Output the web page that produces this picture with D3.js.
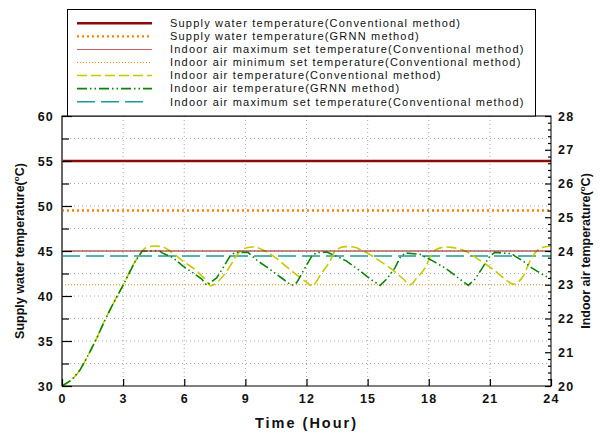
<!DOCTYPE html>
<html>
<head>
<meta charset="utf-8">
<script src="https://cdn.jsdelivr.net/npm/d3@7"></script>
<style>
  body { margin: 0; background: #fff; }
  svg { font-family: Arial, "Liberation Sans", sans-serif; }
</style>
</head>
<body>
<svg width="600" height="434"></svg>
<script>
const svg = d3.select("svg");

// ---- data ----
const timeTicks = [0, 3, 6, 9, 12, 15, 18, 21, 24];
const leftTicks = [30, 35, 40, 45, 50, 55, 60];
const rightTicks = [20, 21, 22, 23, 24, 25, 26, 27, 28];

// constant lines
const supplyConv = 55;      // left axis
const supplyGrnn = 49.5;    // left axis
const indoorMaxSet = 24;    // right axis
const indoorMinSet = 23;    // right axis
const indoorMaxSetGrnn = 23.85; // right axis

// indoor air temperature, conventional method (right axis)
const convTime = [0, 0.47, 0.88, 1.29, 1.7, 2.11, 2.52, 3.01, 3.58, 3.83, 4.07, 4.52, 4.96, 5.3, 5.94, 6.61, 7.1, 7.3,
  7.66, 8.25, 8.49, 8.82, 9.3, 9.6, 9.96, 10.6, 11.09, 11.58, 11.93, 12.26, 12.75, 13.15, 13.4, 13.9, 14.3, 14.79,
  15.61, 16.18, 16.75, 17.08, 17.41, 17.82, 18.14, 18.39, 18.9, 19.2, 19.78, 20.42, 21.25, 21.74, 22.15, 22.64,
  22.97, 23.3, 23.54, 24];
const convTemp = [20, 20.18, 20.47, 20.92, 21.41, 21.96, 22.45, 23.0, 23.68, 23.9, 24.08, 24.15, 24.12, 24.0, 23.7, 23.41, 23.11, 22.97,
  23.1, 23.55, 23.8, 24.03, 24.12, 24.1, 24.0, 23.75, 23.5, 23.26, 23.11, 22.97, 23.35, 23.7, 24.0, 24.13, 24.12, 24.0,
  23.7, 23.46, 23.17, 23.0, 23.2, 23.5, 23.9, 24.05, 24.12, 24.1, 24.0, 23.76, 23.41, 23.17, 23.02, 23.26,
  23.7, 24.0, 24.1, 24.15];

// indoor air temperature, GRNN method (right axis)
const grnnTime = [0, 0.47, 0.88, 1.29, 1.7, 2.11, 2.52, 3.01, 3.58, 3.83, 3.93, 4.81, 4.89, 5.45, 5.94, 6.43, 6.86, 7.1,
  7.59, 7.9, 8.25, 8.49, 9.13, 9.62, 10.11, 10.78, 11.27, 11.52, 11.84, 12.26, 12.5, 12.99, 13.64, 13.97, 14.63,
  15.12, 15.61, 15.94, 16.34, 16.59, 16.84, 17.57, 18.22, 18.8, 19.45, 19.94, 20.27, 20.6, 21.0, 21.25, 22.07,
  22.23, 22.64, 23.05, 23.71, 24];
const grnnTemp = [20, 20.18, 20.47, 20.92, 21.41, 21.96, 22.45, 23.0, 23.68, 23.9, 24.0, 24.0, 23.95, 23.8, 23.55, 23.35, 23.17, 22.98,
  23.2, 23.5, 23.85, 23.96, 23.96, 23.7, 23.5, 23.2, 22.98, 23.06, 23.41, 23.85, 23.95, 23.97, 23.8, 23.7, 23.41,
  23.17, 22.98, 23.17, 23.5, 23.8, 23.94, 23.9, 23.7, 23.5, 23.2, 22.98, 23.17, 23.47, 23.85, 23.96, 23.92,
  23.85, 23.7, 23.5, 23.26, 23.2];

const legendLabels = [
  "Supply water temperature(Conventional method)",
  "Supply water temperature(GRNN method)",
  "Indoor air maximum set temperature(Conventional method)",
  "Indoor air minimum set temperature(Conventional method)",
  "Indoor air temperature(Conventional method)",
  "Indoor air temperature(GRNN method)",
  "Indoor air maximum set temperature(Conventional method)"
];

// styles for each series, same order as legend
const styles = [
  { color: "#8b0a0a", width: 2.6, dash: null },
  { color: "#ff8000", width: 2.4, dash: "2,3" },
  { color: "#8b1a1a", width: 1.1, dash: null },
  { color: "#ff8000", width: 1.1, dash: "1,2" },
  { color: "#c8c800", width: 1.6, dash: "10,4" },
  { color: "#0a850a", width: 1.6, dash: "10,3,1.5,3,1.5,3" },
  { color: "#1a9a9a", width: 1.4, dash: "18,6" }
];

// ---- layout ----
const plot = { left: 62, right: 551, top: 116, bottom: 386 };

const x = d3.scaleLinear().domain([0, 24]).range([plot.left, plot.right]);
const yL = d3.scaleLinear().domain([30, 60]).range([plot.bottom, plot.top]);
const yR = d3.scaleLinear().domain([20, 28]).range([plot.bottom, plot.top]);

svg.append("defs").append("clipPath").attr("id", "clip")
  .append("rect")
  .attr("x", plot.left).attr("y", plot.top)
  .attr("width", plot.right - plot.left).attr("height", plot.bottom - plot.top);

// grid lines
const grid = svg.append("g").attr("class", "grid");
grid.selectAll("line.h")
  .data(d3.range(32.5, 60, 2.5))
  .join("line")
  .attr("x1", plot.left).attr("x2", plot.right)
  .attr("y1", d => yL(d)).attr("y2", d => yL(d))
  .attr("stroke", "#aaa").attr("stroke-width", 1).attr("stroke-dasharray", "1,3");
grid.selectAll("line.v")
  .data(timeTicks.slice(1, -1))
  .join("line")
  .attr("x1", d => x(d)).attr("x2", d => x(d))
  .attr("y1", plot.top).attr("y2", plot.bottom)
  .attr("stroke", "#aaa").attr("stroke-width", 1).attr("stroke-dasharray", "1,3");

// data lines
const marks = svg.append("g").attr("clip-path", "url(#clip)");

function hLine(yVal, st) {
  marks.append("line")
    .attr("x1", plot.left).attr("x2", plot.right)
    .attr("y1", yVal).attr("y2", yVal)
    .attr("stroke", st.color).attr("stroke-width", st.width)
    .attr("stroke-dasharray", st.dash);
}
hLine(yL(supplyGrnn), styles[1]);
hLine(yR(indoorMinSet), styles[3]);
hLine(yR(indoorMaxSetGrnn), styles[6]);

const line = d3.line().x(d => x(d[0])).y(d => yR(d[1]));

marks.append("path")
  .datum(d3.zip(convTime, convTemp))
  .attr("fill", "none")
  .attr("stroke", styles[4].color).attr("stroke-width", styles[4].width)
  .attr("stroke-dasharray", styles[4].dash)
  .attr("d", line.curve(d3.curveMonotoneX));

marks.append("path")
  .datum(d3.zip(grnnTime, grnnTemp))
  .attr("fill", "none")
  .attr("stroke", styles[5].color).attr("stroke-width", styles[5].width)
  .attr("stroke-dasharray", styles[5].dash)
  .attr("d", line.curve(d3.curveLinear));

hLine(yR(indoorMaxSet), styles[2]);
hLine(yL(supplyConv), styles[0]);

// frame
svg.append("rect")
  .attr("x", plot.left).attr("y", plot.top)
  .attr("width", plot.right - plot.left).attr("height", plot.bottom - plot.top)
  .attr("fill", "none").attr("stroke", "#000").attr("stroke-width", 1);
svg.append("line")
  .attr("x1", plot.left).attr("x2", plot.left)
  .attr("y1", plot.top).attr("y2", plot.bottom)
  .attr("stroke", "#666").attr("stroke-width", 2);

// left axis (ticks point inward)
svg.append("g")
  .attr("transform", `translate(${plot.left},0)`)
  .call(d3.axisLeft(yL).tickValues(leftTicks).tickSize(-10).tickPadding(8).tickFormat(d3.format("d")));
svg.append("g")
  .attr("transform", `translate(${plot.left},0)`)
  .call(d3.axisLeft(yL).tickValues(d3.range(32.5, 60, 5)).tickSize(-7).tickFormat(""))
  .call(g => g.select(".domain").remove());

// right axis
svg.append("g")
  .attr("transform", `translate(${plot.right},0)`)
  .call(d3.axisRight(yR).tickValues(rightTicks).tickSize(-6).tickPadding(7).tickFormat(d3.format("d")));
svg.append("g")
  .attr("transform", `translate(${plot.right},0)`)
  .call(d3.axisRight(yR).tickValues(d3.range(20, 28.01, 0.2).filter(v => Math.abs(v - Math.round(v)) > 0.01)).tickSize(-3).tickFormat(""))
  .call(g => g.select(".domain").remove());

// bottom axis
svg.append("g")
  .attr("transform", `translate(0,${plot.bottom})`)
  .call(d3.axisBottom(x).tickValues(timeTicks).tickSize(-7).tickPadding(8).tickFormat(d3.format("d")));

svg.selectAll(".domain").remove();
svg.selectAll(".tick line").attr("stroke", "#000").attr("stroke-width", 1.2);
svg.selectAll(".tick text")
  .attr("font-family", "Arial, 'Liberation Sans', sans-serif")
  .attr("font-size", 12.5).attr("font-weight", "bold")
  .attr("letter-spacing", "1.2px").attr("fill", "#111");

// axis titles
const leftTitle = svg.append("text")
  .attr("transform", `translate(24,${(plot.top + plot.bottom) / 2}) rotate(-90)`)
  .attr("text-anchor", "middle")
  .attr("font-size", 12.5).attr("font-weight", "bold").attr("fill", "#111");
leftTitle.append("tspan").text("Supply water temperature(");
leftTitle.append("tspan").attr("font-size", 8).attr("dy", -5).text("o");
leftTitle.append("tspan").attr("dy", 5).text("C)");

const rightTitle = svg.append("text")
  .attr("transform", `translate(590,${(plot.top + plot.bottom) / 2}) rotate(-90)`)
  .attr("text-anchor", "middle")
  .attr("font-size", 12.5).attr("font-weight", "bold").attr("fill", "#111");
rightTitle.append("tspan").text("Indoor air temperature(");
rightTitle.append("tspan").attr("font-size", 8).attr("dy", -5).text("o");
rightTitle.append("tspan").attr("dy", 5).text("C)");

svg.append("text")
  .attr("x", (plot.left + plot.right) / 2).attr("y", 428)
  .attr("text-anchor", "middle")
  .attr("font-size", 14.5).attr("font-weight", "bold").attr("letter-spacing", "2px")
  .attr("fill", "#111")
  .text("Time (Hour)");

// legend
const legend = svg.append("g");
legend.append("rect")
  .attr("x", 67.5).attr("y", 9.5)
  .attr("width", 468).attr("height", plot.top - 9.5)
  .attr("fill", "#fff").attr("stroke", "#000").attr("stroke-width", 1);

const rowY = d3.scaleLinear().domain([0, 6]).range([23.3, 101.7]);
const items = legend.selectAll("g.item")
  .data(legendLabels)
  .join("g")
  .attr("transform", (d, i) => `translate(0,${rowY(i)})`);
items.append("line")
  .attr("x1", 77).attr("x2", (d, i) => i === 6 ? 146 : 152)
  .attr("stroke", (d, i) => i === 2 ? "#c06060" : styles[i].color)
  .attr("stroke-width", (d, i) => Math.min(styles[i].width, 2.4))
  .attr("stroke-dasharray", (d, i) => styles[i].dash);
items.append("text")
  .attr("x", 170).attr("dy", "0.35em")
  .attr("font-size", 11).attr("letter-spacing", "1.2px").attr("fill", "#111")
  .text(d => d);
</script>
</body>
</html>
